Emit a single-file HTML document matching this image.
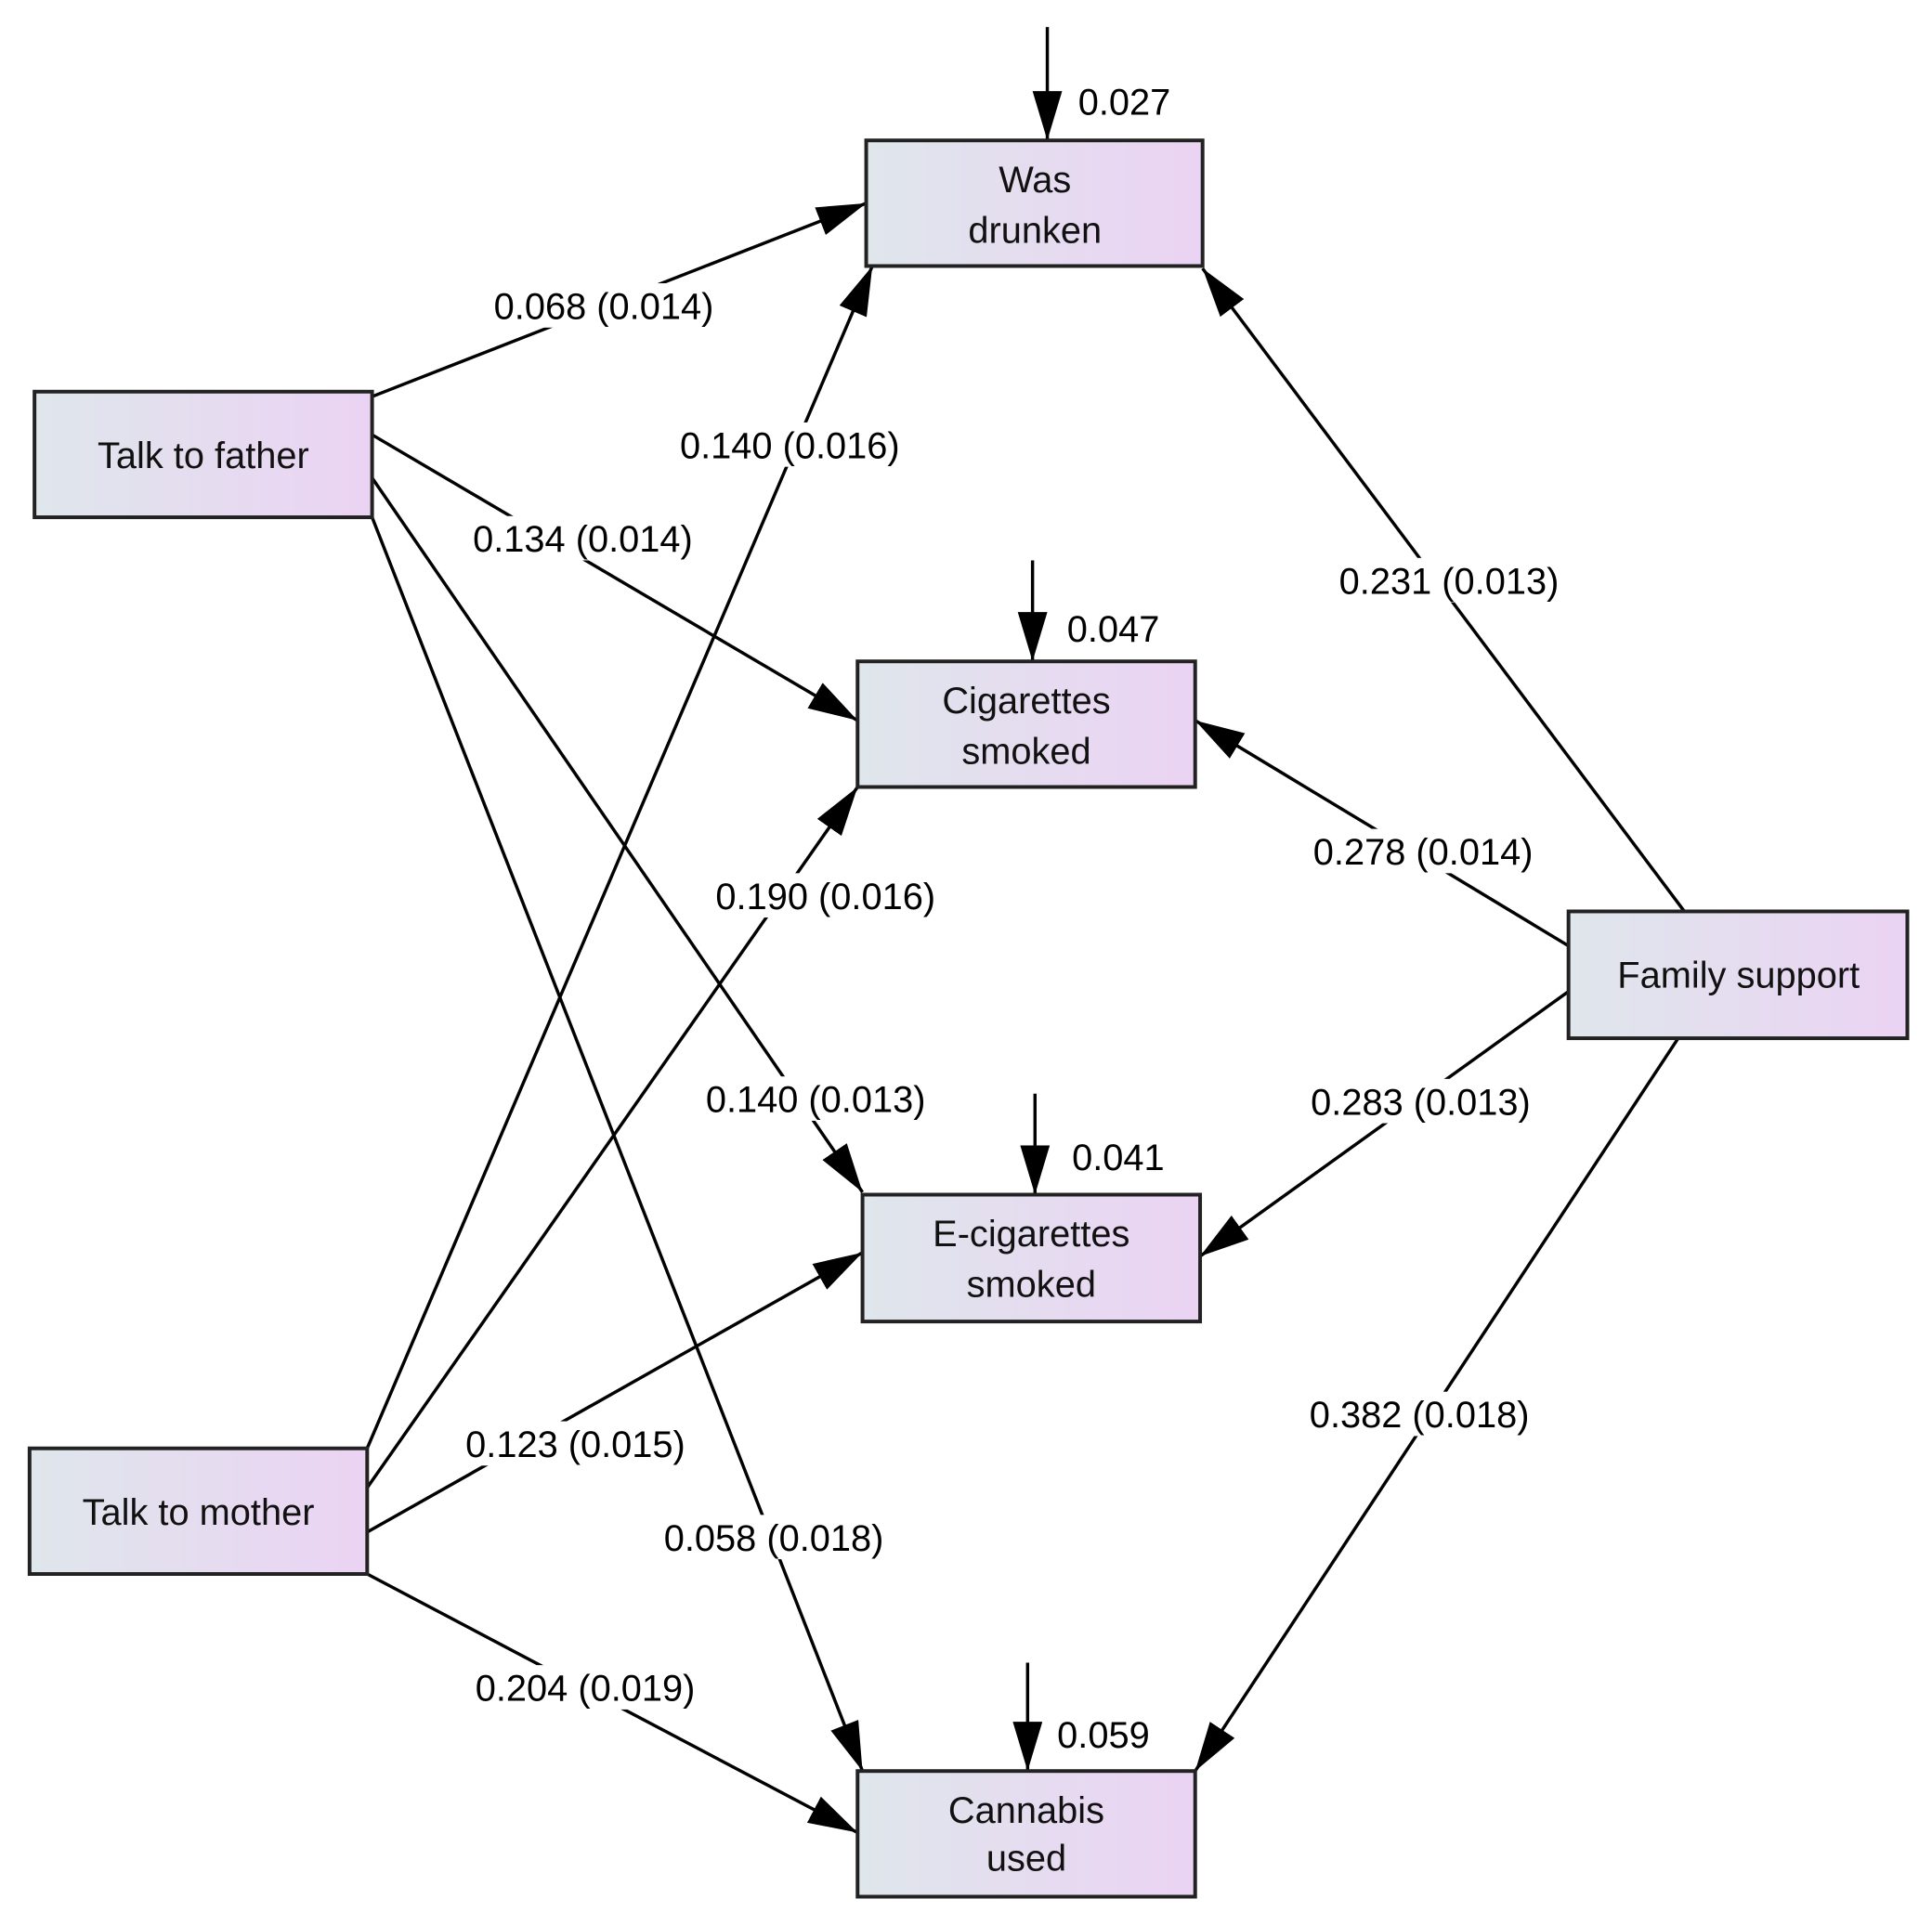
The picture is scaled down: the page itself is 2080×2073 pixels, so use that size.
<!DOCTYPE html>
<html><head><meta charset="utf-8"><style>html,body{margin:0;padding:0;background:#fff}svg{display:block}</style></head>
<body>
<svg width="2080" height="2073" viewBox="0 0 1568 1563" preserveAspectRatio="none" xmlns="http://www.w3.org/2000/svg" font-family="Liberation Sans, Arial, sans-serif" font-size="30">
<defs>
<linearGradient id="g" x1="0" y1="0" x2="1" y2="0"><stop offset="0" stop-color="#dfe6ec"/><stop offset="1" stop-color="#ebd3f3"/></linearGradient>
<marker id="a" markerUnits="userSpaceOnUse" markerWidth="40" markerHeight="24" refX="40" refY="12" orient="auto"><path d="M0,0 L40,12 L0,24 Z" fill="#000"/></marker>
</defs>
<g stroke="#000" stroke-width="2.6" fill="none" marker-end="url(#a)">
<line x1="302" y1="322" x2="703" y2="165"/>
<line x1="302" y1="353" x2="696" y2="585"/>
<line x1="302" y1="388" x2="700" y2="968"/>
<line x1="302" y1="420" x2="700" y2="1438"/>
<line x1="298" y1="1176" x2="708" y2="216"/>
<line x1="298" y1="1208" x2="696" y2="639"/>
<line x1="298" y1="1244" x2="700" y2="1017"/>
<line x1="298" y1="1278" x2="696" y2="1488"/>
<line x1="1367" y1="740" x2="976" y2="218"/>
<line x1="1273" y1="768" x2="970" y2="585"/>
<line x1="1273" y1="805" x2="974" y2="1020"/>
<line x1="1362" y1="843" x2="970" y2="1438"/>
<line x1="850" y1="22" x2="850" y2="114"/>
<line x1="838" y1="455" x2="838" y2="537"/>
<line x1="840" y1="888" x2="840" y2="970"/>
<line x1="834" y1="1350" x2="834" y2="1438"/>
</g>
<g fill="url(#g)" stroke="#222" stroke-width="3">
<rect x="703" y="114" width="273" height="102"/>
<rect x="696" y="537" width="274" height="102"/>
<rect x="700" y="970" width="274" height="103"/>
<rect x="696" y="1438" width="274" height="102"/>
<rect x="28" y="318" width="274" height="102"/>
<rect x="24" y="1176" width="274" height="102"/>
<rect x="1273" y="740" width="275" height="103"/>
</g>
<g text-anchor="middle" fill="#111">
<text x="840" y="156">Was</text><text x="840" y="197">drunken</text>
<text x="833" y="579">Cigarettes</text><text x="833" y="620">smoked</text>
<text x="837" y="1012">E-cigarettes</text><text x="837" y="1053">smoked</text>
<text x="833" y="1480">Cannabis</text><text x="833" y="1519">used</text>
<text x="165" y="380">Talk to father</text>
<text x="161" y="1238">Talk to mother</text>
<text x="1411" y="802">Family support</text>
</g>
<g fill="#fff">
<rect x="380" y="230" width="220" height="36"/>
<rect x="363" y="419" width="220" height="36"/>
<rect x="552" y="874" width="220" height="36"/>
<rect x="518" y="1230" width="220" height="36"/>
<rect x="531" y="343" width="220" height="36"/>
<rect x="560" y="709" width="220" height="36"/>
<rect x="357" y="1154" width="220" height="36"/>
<rect x="365" y="1352" width="220" height="36"/>
<rect x="1066" y="453" width="220" height="36"/>
<rect x="1045" y="673" width="220" height="36"/>
<rect x="1043" y="876" width="220" height="36"/>
<rect x="1042" y="1130" width="220" height="36"/>
</g>
<g text-anchor="middle" fill="#000">
<text x="490" y="259">0.068 (0.014)</text>
<text x="473" y="448">0.134 (0.014)</text>
<text x="662" y="903">0.140 (0.013)</text>
<text x="628" y="1259">0.058 (0.018)</text>
<text x="641" y="372">0.140 (0.016)</text>
<text x="670" y="738">0.190 (0.016)</text>
<text x="467" y="1183">0.123 (0.015)</text>
<text x="475" y="1381">0.204 (0.019)</text>
<text x="1176" y="482">0.231 (0.013)</text>
<text x="1155" y="702">0.278 (0.014)</text>
<text x="1153" y="905">0.283 (0.013)</text>
<text x="1152" y="1159">0.382 (0.018)</text>
</g>
<g fill="#000">
<text x="875" y="93">0.027</text>
<text x="866" y="521">0.047</text>
<text x="870" y="950">0.041</text>
<text x="858" y="1419">0.059</text>
</g>
</svg>
</body></html>
